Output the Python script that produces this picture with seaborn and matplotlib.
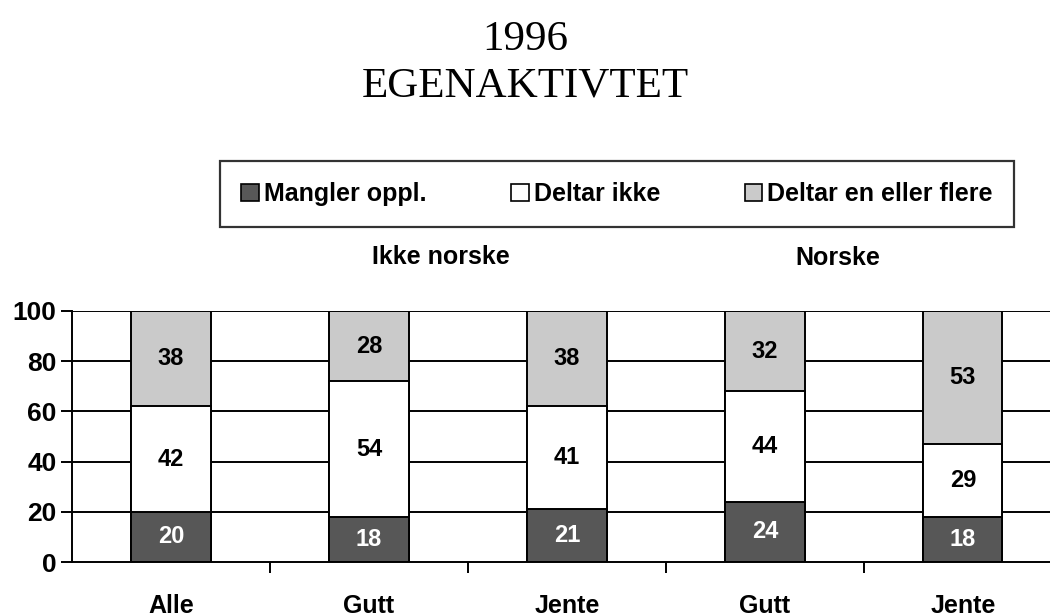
import matplotlib
matplotlib.use('Agg')
import matplotlib.pyplot as plt
import seaborn as sns
import numpy as np
from matplotlib.patches import Patch

# data
categories = ["Alle", "Gutt", "Jente", "Gutt", "Jente"]
mangler = [20, 18, 21, 24, 18]
deltar_ikke = [42, 54, 41, 44, 29]
deltar_flere = [38, 28, 38, 32, 53]
series_names = ["Mangler oppl.", "Deltar ikke", "Deltar en eller flere"]
series_colors = ["#575757", "#ffffff", "#cacaca"]
group_labels = ["Ikke norske", "Norske"]
y_ticks = [0, 20, 40, 60, 80, 100]

sns.set_style("white")
plt.rcParams['font.family'] = ['Liberation Sans', 'DejaVu Sans']
plt.rcParams['text.color'] = 'black'
plt.rcParams['xtick.color'] = 'black'
plt.rcParams['ytick.color'] = 'black'

fig = plt.figure(figsize=(10.5, 6.16), dpi=100)
ax = fig.add_axes([72 / 1050, 54 / 616, 1 - 72 / 1050, 251 / 616])

x = list(range(len(categories)))
layers = [mangler, deltar_ikke, deltar_flere]
cum = np.cumsum(np.array(layers), axis=0)

# gridlines behind the bars
for yv in y_ticks[1:]:
    ax.axhline(yv, color="black", lw=1.4, zorder=0)

# stacked bars: draw cumulative totals from the top layer down
for i in reversed(range(len(layers))):
    sns.barplot(x=x, y=cum[i], color=series_colors[i], width=0.4,
                edgecolor="black", linewidth=1.4, ax=ax, zorder=2,
                saturation=1)

# value labels in the middle of each segment
for i, vals in enumerate(layers):
    lower = cum[i] - np.array(vals)
    for xi, v, lo in zip(x, vals, lower):
        ax.text(xi, lo + v / 2, str(v), ha="center", va="center",
                fontsize=17, fontweight="bold",
                color="white" if i == 0 else "black", zorder=3)

ax.set_xlim(-0.5, 4.44)
ax.set_ylim(0, 100)
ax.set_yticks(y_ticks)
ax.set_yticklabels([str(t) for t in y_ticks], fontsize=19, fontweight="bold")
ax.set_xticks(x)
ax.set_xticklabels(categories, fontsize=18, fontweight="bold")
ax.set_xticks([xi + 0.5 for xi in x[:-1]], minor=True)
ax.tick_params(axis="x", which="major", length=0, pad=23, bottom=True)
ax.tick_params(axis="x", which="minor", length=8, width=1.4, direction="out",
               bottom=True)
ax.tick_params(axis="y", length=8, width=1.4, direction="out", pad=3,
               left=True)
ax.set_xlabel("")
ax.set_ylabel("")
for s in ["top", "right"]:
    ax.spines[s].set_visible(False)
for s in ["left", "bottom"]:
    ax.spines[s].set_linewidth(1.4)
    ax.spines[s].set_color("black")

# titles
fig.text(0.5, 1 - 40 / 616, "1996", ha="center", va="center",
         fontsize=31, family="Liberation Serif")
fig.text(0.5, 1 - 86 / 616, "EGENAKTIVTET", ha="center", va="center",
         fontsize=31, family="Liberation Serif")

# group labels
fig.text(441 / 1050, 1 - 257 / 616, group_labels[0], ha="center", va="center",
         fontsize=18, fontweight="bold")
fig.text(838 / 1050, 1 - 258 / 616, group_labels[1], ha="center", va="center",
         fontsize=18, fontweight="bold")

# legend
handles = [Patch(facecolor=c, edgecolor="black", linewidth=1.2) for c in series_colors]
leg = fig.legend(handles, series_names, loc="center", ncol=3,
                 bbox_to_anchor=(617 / 1050, 1 - 194 / 616),
                 prop={"size": 18, "weight": "bold"},
                 frameon=True, fancybox=False, edgecolor="black",
                 handlelength=0.7, handleheight=0.7, handletextpad=0.2,
                 columnspacing=3.4, borderpad=0.85, borderaxespad=0)
leg.get_frame().set_linewidth(1.6)

fig.savefig("out.png", dpi=100)
